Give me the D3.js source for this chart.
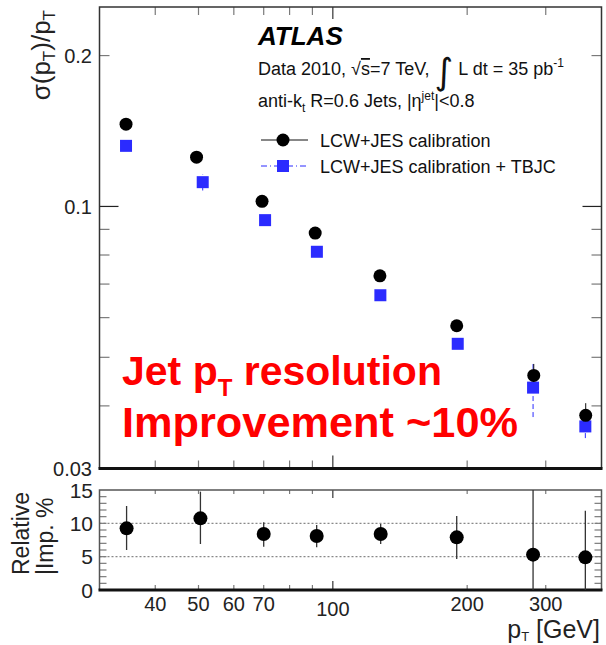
<!DOCTYPE html>
<html>
<head>
<meta charset="utf-8">
<script src="https://cdn.jsdelivr.net/npm/d3@7"></script>
<style>
body { margin:0; background:#fff; }
text { font-family: "Liberation Sans", Arial, sans-serif; }
</style>
</head>
<body>
<svg id="chart"></svg>
<script>
// data
var ptLCW = [34.4, 49.5, 69.4, 91.3, 127.5, 189.5, 282, 368.7]
var resLCW = [0.1459, 0.1254, 0.1024, 0.0885, 0.0727, 0.0578, 0.0460, 0.0383]
var errLCW = [0.001, 0.001, 0.001, 0.001, 0.001, 0.0014, 0.0025, 0.0022]

var ptTBJC = [34.4, 51.1, 70.5, 92.1, 127.8, 190.5, 281, 368]
var resTBJC = [0.1321, 0.1118, 0.0939, 0.0812, 0.0665, 0.0532, 0.0435, 0.0364]
var errTBJC = [0.001, 0.0042, 0.001, 0.001, 0.001, 0.001, 0.0055, 0.0019]

var ptImp = [34.5, 50.5, 70, 92, 128, 189.5, 281, 368]
var impVal = [9.25, 10.75, 8.4, 8.1, 8.4, 7.9, 5.3, 4.9]
var impLo = [6.0, 6.9, 6.5, 6.4, 6.9, 4.65, 0, 0]
var impHi = [12.6, 14.75, 10.15, 9.75, 9.9, 11.1, 15, 11.9]

var xTickLabels = [40, 50, 60, 70, 100, 200, 300]
var xMinor = [40, 50, 60, 70, 80, 90, 200, 300]
var yTopLabels = [0.2, 0.1, 0.03]
var yTopMinor = [0.04, 0.05, 0.06, 0.07, 0.08, 0.09, 0.2]
var yBotLabels = [0, 5, 10, 15]
var yBotGrid = [5, 10]

var svg = d3.select('#chart').attr('width', 606).attr('height', 645)

var L = 99.5, R = 601.5
var x = d3.scaleLog().domain([30, 400]).range([L, R])
var y = d3.scaleLog().domain([0.03, 0.25]).range([468.5, 7])
var y2 = d3.scaleLinear().domain([0, 15]).range([590, 490])

var tickCol = '#7a7a7a'
var blue = '#2b2bff'

function line(g, x1, y1, x2, y2_, col, w, dash) {
	var l = g.append('line').attr('x1', x1).attr('y1', y1).attr('x2', x2).attr('y2', y2_)
		.attr('stroke', col).attr('stroke-width', w || 1)
	if (dash) l.attr('stroke-dasharray', dash)
	return l
}

//---------- top panel ----------
var topG = svg.append('g')

// x ticks top & bottom
xMinor.forEach(function(v) {
	line(topG, x(v), y.range()[0], x(v), y.range()[0] - 8, tickCol, 1.2)
	line(topG, x(v), y.range()[1], x(v), y.range()[1] + 8, tickCol, 1.2)
})
line(topG, x(100), y.range()[0], x(100), y.range()[0] - 13, '#333', 1.2)
line(topG, x(100), y.range()[1], x(100), y.range()[1] + 12, '#333', 1.2)

// y ticks left & right
yTopMinor.forEach(function(v) {
	line(topG, L, y(v), L + 10, y(v), tickCol, 1.2)
	line(topG, R, y(v), R - 10, y(v), tickCol, 1.2)
})
line(topG, L, y(0.1), L + 19, y(0.1), '#222', 1.2)
line(topG, R, y(0.1), R - 19, y(0.1), '#222', 1.2)

// frame
topG.append('path')
	.attr('d', 'M' + L + ',' + y.range()[0] + 'V' + y.range()[1] + 'H' + R + 'V' + y.range()[0])
	.attr('fill', 'none').attr('stroke', '#333').attr('stroke-width', 1.5)
line(topG, L - 1, y.range()[0], R + 1, y.range()[0], '#111', 3)

// y labels
topG.selectAll('.ylab').data(yTopLabels).enter().append('text')
	.attr('x', 92).attr('y', function(d) { return y(d) })
	.attr('dy', '0.36em').attr('text-anchor', 'end')
	.attr('font-size', 20).attr('fill', '#222')
	.text(function(d) { return d })

// y title
var yt = topG.append('text')
	.attr('transform', 'translate(50,10) rotate(-90)')
	.attr('text-anchor', 'end').attr('font-size', 26).attr('fill', '#222')
yt.append('tspan').text('σ(p')
yt.append('tspan').attr('font-size', 17).attr('dy', 5).text('T')
yt.append('tspan').attr('dy', -5).text(')/p')
yt.append('tspan').attr('font-size', 17).attr('dy', 5).text('T')

// error bars
ptTBJC.forEach(function(p, i) {
	line(topG, x(p), y(resTBJC[i] - errTBJC[i]), x(p), y(resTBJC[i] + errTBJC[i]), blue, 1, '5,3')
})
ptLCW.forEach(function(p, i) {
	line(topG, x(p), y(resLCW[i] - errLCW[i]), x(p), y(resLCW[i] + errLCW[i]), '#111', 1)
})

// markers
topG.selectAll('.sq').data(ptTBJC).enter().append('rect')
	.attr('x', function(d) { return x(d) - 6 })
	.attr('y', function(d, i) { return y(resTBJC[i]) - 6 })
	.attr('width', 12).attr('height', 12).attr('fill', blue)
topG.selectAll('.ci').data(ptLCW).enter().append('circle')
	.attr('cx', function(d) { return x(d) })
	.attr('cy', function(d, i) { return y(resLCW[i]) })
	.attr('r', 6.5).attr('fill', '#000')

// ATLAS block
topG.append('text').attr('x', 258).attr('y', 45)
	.attr('font-size', 26).attr('font-weight', 'bold').attr('font-style', 'italic')
	.text('ATLAS')

var t1 = topG.append('text').attr('x', 258).attr('y', 75).attr('font-size', 18).attr('fill', '#111')
t1.append('tspan').text('Data 2010, √')
t1.append('tspan').attr('text-decoration', 'overline').text('s')
t1.append('tspan').text('=7 TeV, ')
t1.append('tspan').attr('font-size', 36).attr('dy', 9).attr('font-family', 'DejaVu Sans').text('∫')
t1.append('tspan').attr('dy', -9).text(' L dt = 35 pb')
t1.append('tspan').attr('font-size', 12).attr('dy', -8).text('-1')

var t2 = topG.append('text').attr('x', 258).attr('y', 107).attr('font-size', 18).attr('fill', '#111')
t2.append('tspan').text('anti-k')
t2.append('tspan').attr('font-size', 12).attr('dy', 5).text('t')
t2.append('tspan').attr('dy', -5).text(' R=0.6 Jets, |η')
t2.append('tspan').attr('font-size', 12).attr('dy', -7).text('jet')
t2.append('tspan').attr('dy', 7).text('|<0.8')

// legend
line(topG, 261, 140, 308, 140, '#111', 1)
topG.append('circle').attr('cx', 283).attr('cy', 140).attr('r', 6.5).attr('fill', '#000')
topG.append('text').attr('x', 320).attr('y', 147).attr('font-size', 18).attr('fill', '#111')
	.text('LCW+JES calibration')
line(topG, 261, 166, 308, 166, blue, 1, '6,3,1,3')
topG.append('rect').attr('x', 277).attr('y', 160).attr('width', 12).attr('height', 12).attr('fill', blue)
topG.append('text').attr('x', 320).attr('y', 173).attr('font-size', 18).attr('fill', '#111')
	.text('LCW+JES calibration + TBJC')

// red annotation
var r1 = topG.append('text').attr('x', 122).attr('y', 385)
	.attr('font-family', 'Open Sans').attr('font-weight', 'bold').attr('font-size', 41).attr('fill', '#ff0000')
r1.append('tspan').text('Jet p')
r1.append('tspan').attr('font-size', 24).attr('dy', 11).text('T')
r1.append('tspan').attr('dy', -11).text(' resolution')
topG.append('text').attr('x', 122).attr('y', 437)
	.attr('font-family', 'Open Sans').attr('font-weight', 'bold').attr('font-size', 42).attr('fill', '#ff0000')
	.attr('textLength', 396).attr('lengthAdjust', 'spacingAndGlyphs')
	.text('Improvement ~10%')

//---------- bottom panel ----------
var botG = svg.append('g')

yBotGrid.forEach(function(v) {
	line(botG, L, y2(v), R, y2(v), '#888', 1.2, '2,2')
})

xMinor.forEach(function(v) {
	line(botG, x(v), y2.range()[0], x(v), y2.range()[0] - 5, tickCol, 1.2)
	line(botG, x(v), y2.range()[1], x(v), y2.range()[1] + 4, tickCol, 1.2)
})
line(botG, x(100), y2.range()[0], x(100), y2.range()[0] - 9, '#333', 1.2)
line(botG, x(100), y2.range()[1], x(100), y2.range()[1] + 8, '#333', 1.2)

d3.range(1, 15).forEach(function(v) {
	line(botG, L, y2(v), L + 7, y2(v), tickCol, 1.2)
	line(botG, R, y2(v), R - 7, y2(v), tickCol, 1.2)
})

botG.append('path')
	.attr('d', 'M' + L + ',' + y2.range()[0] + 'V' + y2.range()[1] + 'H' + R + 'V' + y2.range()[0])
	.attr('fill', 'none').attr('stroke', '#555').attr('stroke-width', 1.5)
line(botG, L - 1, y2.range()[0], R + 1, y2.range()[0], '#111', 3)

botG.selectAll('.ylab').data(yBotLabels).enter().append('text')
	.attr('x', 93).attr('y', function(d) { return y2(d) })
	.attr('dy', '0.36em').attr('text-anchor', 'end')
	.attr('font-size', 21).attr('fill', '#222')
	.text(function(d) { return d })

var bt = botG.append('g').attr('transform', 'translate(0,575) rotate(-90)')
bt.append('text').attr('x', 0).attr('y', 29).attr('font-size', 23).attr('fill', '#222').text('Relative')
bt.append('text').attr('x', 0).attr('y', 53).attr('font-size', 23).attr('fill', '#222').text('|Imp. %')

ptImp.forEach(function(p, i) {
	line(botG, x(p), y2(impLo[i]), x(p), y2(impHi[i]), '#333', 1.3)
})
botG.selectAll('.ci').data(ptImp).enter().append('circle')
	.attr('cx', function(d) { return x(d) })
	.attr('cy', function(d, i) { return y2(impVal[i]) })
	.attr('r', 7).attr('fill', '#000')

// x labels
botG.selectAll('.xlab').data(xTickLabels).enter().append('text')
	.attr('x', function(d) { return x(d) })
	.attr('y', function(d) { return d == 100 ? 616 : 611 })
	.attr('text-anchor', 'middle').attr('font-size', 20).attr('fill', '#222')
	.text(function(d) { return d })

var xt = botG.append('text').attr('x', 600).attr('y', 638).attr('text-anchor', 'end')
	.attr('font-size', 25).attr('fill', '#222')
xt.append('tspan').text('p')
xt.append('tspan').attr('font-size', 13).attr('dy', 3).text('T')
xt.append('tspan').attr('dy', -3).text(' [GeV]')
</script>
</body>
</html>
